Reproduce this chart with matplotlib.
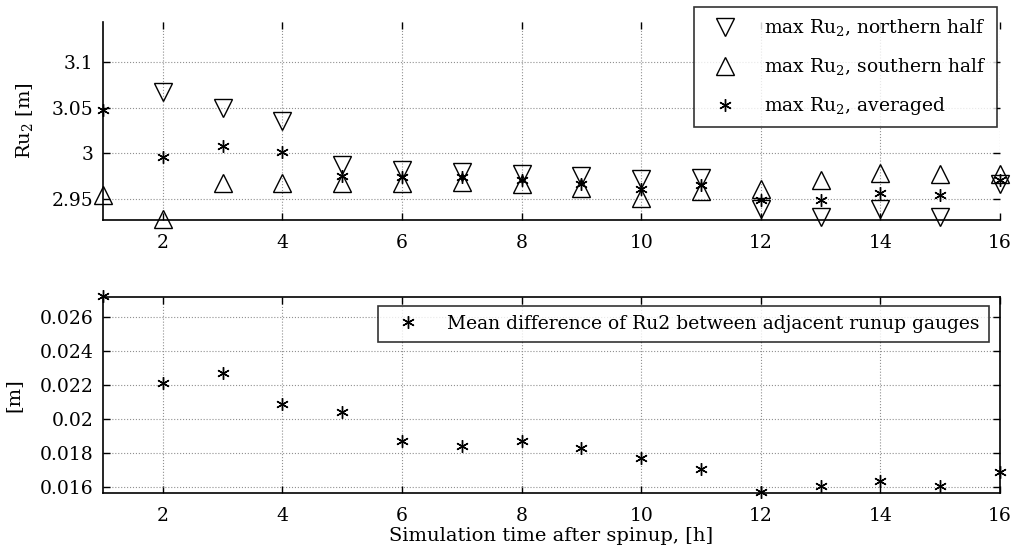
import numpy as np
import matplotlib
matplotlib.use('Agg')
import matplotlib.pyplot as plt

plt.rcParams['font.family'] = ['DejaVu Serif']
plt.rcParams['mathtext.fontset'] = 'dejavuserif'

# data
hours = [1, 2, 3, 4, 5, 6, 7, 8, 9, 10, 11, 12, 13, 14, 15, 16]
ru2_north = [np.nan, 3.067, 3.050, 3.036, 2.987, 2.982, 2.980, 2.977,
             2.975, 2.972, 2.973, 2.939, 2.930, 2.939, 2.930, 2.967]
ru2_south = [2.954, 2.928, 2.968, 2.968, 2.968, 2.968, 2.969, 2.967,
             2.962, 2.951, 2.959, 2.961, 2.971, 2.979, 2.977, 2.977]
ru2_avg = [3.048, 2.996, 3.008, 3.002, 2.975, 2.974, 2.974, 2.971,
           2.967, 2.961, 2.965, 2.949, 2.949, 2.957, 2.954, 2.971]
mean_diff = [0.0272, 0.0221, 0.0227, 0.0209, 0.0204, 0.0187, 0.0184, 0.0187,
             0.0183, 0.0177, 0.0171, 0.0157, 0.0161, 0.0164, 0.0161, 0.0169]

top_yticks = [2.95, 3.0, 3.05, 3.1]
top_yticklabels = ['2.95', '3', '3.05', '3.1']
bot_yticks = [0.016, 0.018, 0.02, 0.022, 0.024, 0.026]
bot_yticklabels = ['0.016', '0.018', '0.02', '0.022', '0.024', '0.026']
xticks = [2, 4, 6, 8, 10, 12, 14, 16]

star = (6, 2, 0)

fig = plt.figure(figsize=(10.15, 5.52), dpi=100)
ax1 = fig.add_axes([0.1015, 0.6014, 0.8837, 0.3587])
ax2 = fig.add_axes([0.1015, 0.1063, 0.8837, 0.3562])


def style_axes(ax):
    ax.set_xlim(1, 16)
    ax.set_xticks(xticks)
    ax.grid(True, color='#909090', linestyle=':', linewidth=0.8)
    ax.tick_params(direction='in', length=5, width=1, labelsize=13.5,
                   top=True, right=True, pad=7)
    ax.tick_params(axis='x', pad=10)
    for s in ax.spines.values():
        s.set_linewidth(1.2)


# top panel
ax1.plot(hours, ru2_north, linestyle='none', marker='v', ms=12.5,
         mfc='none', mec='black', mew=1, clip_on=False,
         label='max Ru$_2$, northern half')
ax1.plot(hours, ru2_south, linestyle='none', marker='^', ms=12.5,
         mfc='none', mec='black', mew=1, clip_on=False,
         label='max Ru$_2$, southern half')
ax1.plot(hours, ru2_avg, linestyle='none', marker=star, ms=9,
         mfc='none', mec='black', mew=1, clip_on=False,
         label='max Ru$_2$, averaged')
style_axes(ax1)
ax1.set_ylim(2.927, 3.144)
ax1.set_yticks(top_yticks)
ax1.set_yticklabels(top_yticklabels)
ax1.spines['top'].set_visible(False)
ax1.spines['right'].set_visible(False)
ax1.set_ylabel('Ru$_2$ [m]', fontsize=14, labelpad=12)
leg1 = ax1.legend(loc='upper right', bbox_to_anchor=(0.997, 1.075), fontsize=13.5,
                  frameon=True, fancybox=False, edgecolor='black',
                  borderpad=0.55, labelspacing=0.95, handletextpad=1.0,
                  handlelength=2.2, borderaxespad=0)
leg1.get_frame().set_linewidth(1.2)

# bottom panel
ax2.plot(hours, mean_diff, linestyle='none', marker=star, ms=9,
         mfc='none', mec='black', mew=1, clip_on=False,
         label='Mean difference of Ru2 between adjacent runup gauges')
style_axes(ax2)
ax2.set_ylim(0.01565, 0.02718)
ax2.set_yticks(bot_yticks)
ax2.set_yticklabels(bot_yticklabels)
ax2.set_ylabel('[m]', fontsize=14, labelpad=12)
ax2.set_xlabel('Simulation time after spinup, [h]', fontsize=14, labelpad=1)
leg2 = ax2.legend(loc='upper right', bbox_to_anchor=(0.988, 0.955), fontsize=13.5,
                  frameon=True, fancybox=False, edgecolor='black',
                  borderpad=0.5, handletextpad=1.0, handlelength=2.2,
                  borderaxespad=0)
leg2.get_frame().set_linewidth(1.2)

fig.savefig('out.png', dpi=100)
